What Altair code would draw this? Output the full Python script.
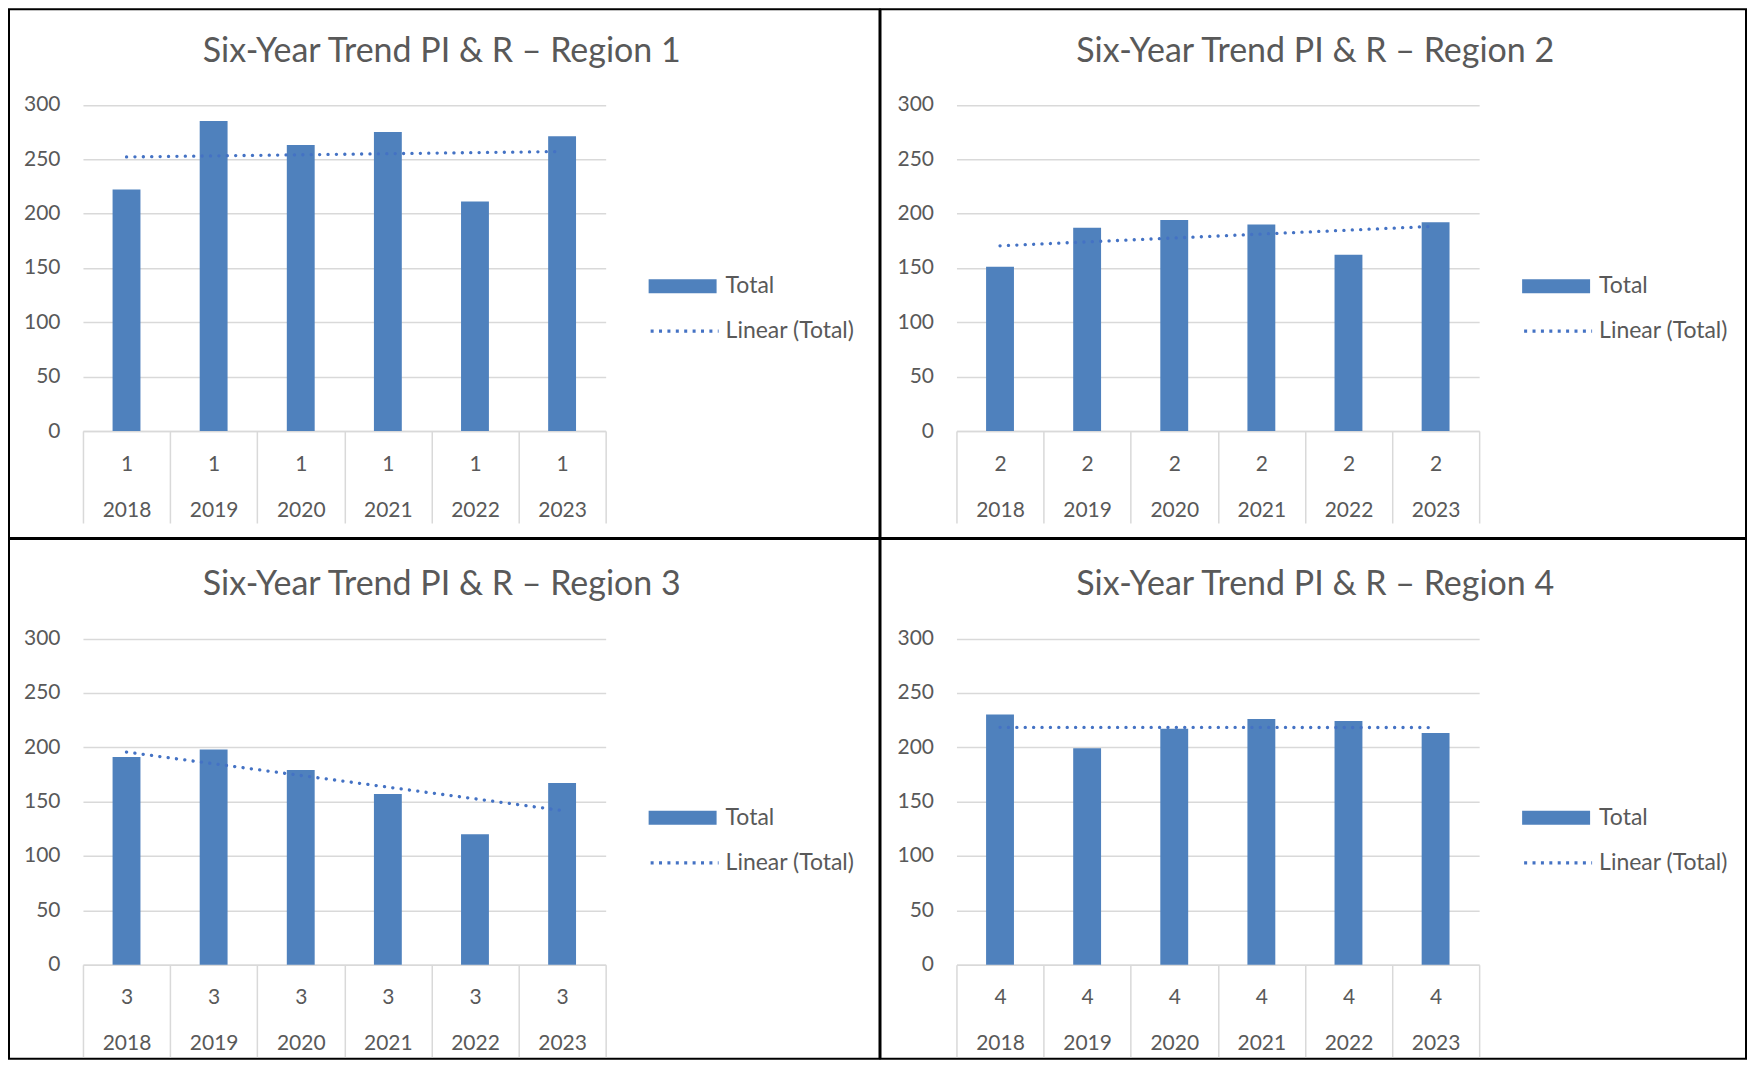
import altair as alt
import pandas as pd

years = [2018, 2019, 2020, 2021, 2022, 2023]
region_ids = ["1", "2", "3", "4"]
totals_r1 = [222, 285, 263, 275, 211, 271]
totals_r2 = [151, 187, 194, 190, 162, 192]
totals_r3 = [191, 198, 179, 157, 120, 167]
totals_r4 = [230, 199, 217, 226, 224, 213]
titles = [
    "Six-Year Trend PI & R \u2013 Region 1",
    "Six-Year Trend PI & R \u2013 Region 2",
    "Six-Year Trend PI & R \u2013 Region 3",
    "Six-Year Trend PI & R \u2013 Region 4",
]
y_ticks = [0, 50, 100, 150, 200, 250, 300]
bar_series = "Total"
trend_series = "Linear (Total)"

BAR = "#4F81BD"
TREND = "#4472C4"
TEXT = "#595959"
GRID = "#D9D9D9"
FONT = "Lato"

W_L, W_R = 871, 866
H_TOP, H_BOT = 529, 520

# column layout: (width, x0, x1, legend x, title x)
cols = [(W_L, 74, 597, 640, 433), (W_R, 76, 599, 642, 435)]
# row layout: (height, y0 pixel, y300 pixel, title y, legend y1, legend y2)
rows = [(H_TOP, 422, 95.5, 43, 243, 286), (H_BOT, 426, 99.5, 46, 245, 288)]


def panel(rid, totals, title, col, row):
    W, X0, X1, LX, TX = col
    H, Y0, Y300, TY, LY1, LY2 = row
    df = pd.DataFrame({"year": years, "total": totals})
    df["region"] = rid
    df["idx"] = list(range(len(years)))
    df["key"] = df["region"] + "|" + df["year"].astype(str)
    df["series"] = bar_series
    base = alt.Chart(df)

    xenc = alt.X(
        "key:N", sort="ascending", title=None,
        scale=alt.Scale(range=[X0, X1], paddingInner=0, paddingOuter=0),
        axis=alt.Axis(
            labelExpr="indexof('' + datum.value, '|') >= 0 ? split('' + datum.value, '|') : ''",
            tickBand="extent", ticks=True,
            tickSize=92, tickColor=GRID, tickWidth=1.5, domainColor=GRID,
            domainWidth=1.5, labelAngle=0, labelBaseline="middle",
            labelLineHeight=46, labelPadding=-59, offset=-(H - Y0),
            labelFontSize=21, labelColor=TEXT, labelFont=FONT, grid=False,
        ),
    )
    yenc = alt.Y(
        "total:Q", title=None,
        scale=alt.Scale(domain=[0, 300], range=[Y0, Y300], nice=False),
        axis=alt.Axis(
            values=y_ticks, grid=True, gridColor=GRID, gridWidth=1.5,
            domain=False, ticks=False, labelPadding=23, offset=-X0,
            labelFontSize=21, labelColor=TEXT, labelFont=FONT,
        ),
    )
    bars = base.mark_bar(width=alt.RelativeBandSize(0.32)).encode(
        x=xenc, y=yenc,
        fill=alt.Fill(
            "series:N",
            scale=alt.Scale(domain=[bar_series], range=[BAR]),
            legend=alt.Legend(
                title=None, orient="none", legendX=LX, legendY=LY1,
                symbolType="M-1,-0.206H1V0.206H-1Z", symbolSize=4624,
                symbolStrokeWidth=0, labelOffset=9, labelFontSize=23,
                labelFont=FONT, labelColor=TEXT, padding=0,
            ),
        ),
    )
    trend = (
        base.transform_regression("idx", "total", groupby=["region"])
        .transform_calculate(
            key=f"datum.region + '|' + ({years[0]} + round(datum.idx))",
            series=f"'{trend_series}'",
        )
        .mark_line(strokeWidth=3.3, strokeCap="round", strokeDash=[0.1, 8.3])
        .encode(
            x=alt.X("key:N", sort="ascending", title=None),
            y=alt.Y("total:Q", title=None),
            stroke=alt.Stroke(
                "series:N",
                scale=alt.Scale(domain=[trend_series], range=[TREND]),
                legend=alt.Legend(
                    title=None, orient="none", legendX=LX, legendY=LY2,
                    symbolType="stroke", symbolSize=4624, symbolDash=[3, 5.4],
                    symbolStrokeWidth=3.3, labelOffset=5, labelFontSize=23,
                    labelFont=FONT, labelColor=TEXT, padding=0,
                ),
            ),
        )
    )
    title_layer = (
        alt.Chart(pd.DataFrame({"t": [title]}))
        .mark_text(font=FONT, fontSize=34, color=TEXT, align="center", baseline="middle")
        .encode(text="t:N", x=alt.value(TX), y=alt.value(TY))
    )
    return alt.layer(bars, trend, title_layer).properties(width=W, height=H)


all_totals = [totals_r1, totals_r2, totals_r3, totals_r4]
panels = []
for i, (r, t, ti) in enumerate(zip(region_ids, all_totals, titles)):
    panels.append(panel(r, t, ti, cols[i % 2], rows[i // 2]))

chart = (
    alt.concat(*panels, columns=2, spacing=-2)
    .resolve_scale(x="independent", y="independent", fill="independent", stroke="independent")
    .resolve_legend(fill="independent", stroke="independent")
    .resolve_axis(x="independent", y="independent")
    .properties(padding=0, background="white")
    .configure_view(stroke="black", strokeWidth=2)
)

chart.save("out.html", embed_options={"renderer": "svg", "actions": False})
